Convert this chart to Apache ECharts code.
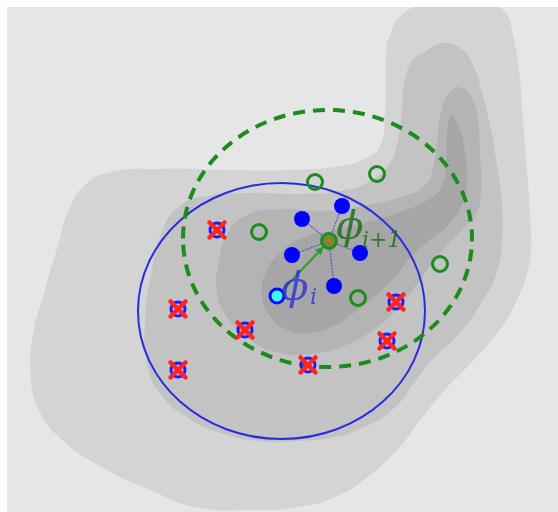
<!DOCTYPE html>
<html><head><meta charset="utf-8">
<script src="https://cdn.jsdelivr.net/npm/echarts@6/dist/echarts.min.js"></script>
<style>html,body{margin:0;padding:0;background:#fff}#c{width:558px;height:512px}</style>
</head><body><div id="c"></div>
<script>
// ---- data (diagram coordinates) ----
const contourL1 = [[386,60],[390,35],[405,12],[430,5],[490,5],[505,12],[513,35],[519,70],[523,120],[527,170],[530,215],[531,245],[528,270],[517,300],[498,332],[468,366],[443,392],[422,418],[397,450],[365,479],[335,497],[298,507],[250,510],[195,507],[150,490],[100,466],[60,438],[38,408],[31,378],[33,335],[45,290],[58,245],[68,212],[85,185],[112,172],[160,169],[230,170],[290,170],[340,166],[366,158],[380,146],[385,115]];
const contourL2 = [[428,50],[443,43],[460,48],[472,63],[482,92],[490,125],[497,165],[502,205],[502,240],[497,272],[480,305],[458,335],[432,360],[415,382],[392,410],[362,428],[335,437],[298,441],[258,441],[218,432],[185,416],[162,396],[148,368],[145,320],[152,270],[162,232],[177,208],[202,197],[250,193],[300,194],[345,190],[372,180],[390,163],[398,140],[402,110],[405,80],[413,60]];
const contourL3 = [[452,90],[462,88],[472,98],[478,120],[480,155],[481,190],[477,212],[464,228],[449,243],[434,261],[417,284],[399,307],[373,330],[341,347],[310,354],[280,353],[250,340],[228,318],[217,292],[219,262],[228,233],[245,216],[277,209],[327,211],[367,205],[400,197],[424,186],[433,168],[437,140],[442,108]];
const contourL4 = [[451,116],[459,128],[465,152],[467,178],[463,202],[451,222],[430,240],[412,256],[398,273],[375,296],[352,314],[332,327],[310,333],[288,330],[269,315],[262,294],[266,272],[280,253],[302,238],[335,230],[368,222],[400,212],[426,201],[441,188],[446,165],[447,135]];

const blueCircle = [281.5, 311, 143.5, 128];   // cx, cy, rx, ry
const greenCircle = [327.5, 238.5, 144.5, 128.5];

const rejectedPts = [[217,230],[178,309],[178,370],[245,330],[396,302],[387,341],[308,365]];
const proposalPts = [[315,182],[377,174],[259,232],[440,264],[358,298]];
const neighborPts = [[342,206],[302,219],[292,255],[360,253],[334,286]];
const phiI = [277,296];
const phiNext = [329,241];

const labelPos = [[295,290],[350,229]];
const labelMain = ['ϕ','ϕ'];
const labelSub = ['i','i+1'];

// ---- styles ----
const contourColors = ['#d4d4d4','#c3c3c3','#b4b4b4','#a6a6a6'];
const labelColors = ['rgba(45,45,215,0.78)','rgba(25,110,25,0.82)'];
const subOffset = [[15,8],[12,12]];
const contours = [contourL1, contourL2, contourL3, contourL4];

const chart = echarts.init(document.getElementById('c'), null, {renderer:'canvas'});

function ellipseSeries(ell, style, z){
  return {type:'custom', coordinateSystem:'cartesian2d', clip:true, silent:true, z:z,
    data:[ell],
    renderItem(params, api){
      const c = api.coord([api.value(0), api.value(1)]);
      const s = api.size([api.value(2), api.value(3)]);
      return {type:'ellipse', shape:{cx:c[0], cy:c[1], rx:Math.abs(s[0]), ry:Math.abs(s[1])}, style:style};
    }};
}

const option = {
  animation:false,
  backgroundColor:'#ffffff',
  grid:{left:7, top:7, right:0, bottom:0, show:true, backgroundColor:'#e6e6e6', borderWidth:0},
  xAxis:{type:'value', min:7, max:558, show:false},
  yAxis:{type:'value', min:7, max:512, inverse:true, show:false},
  series:[
    {type:'custom', coordinateSystem:'cartesian2d', clip:true, silent:true, z:1,
     data: contours.map((c,i)=>[300,300,i]),
     renderItem(params, api){
       const pts = contours[params.dataIndex].map(p=>api.coord(p));
       return {type:'polygon', shape:{points:pts, smooth:0.5}, style:{fill:contourColors[params.dataIndex]}};
     }},
    {type:'custom', coordinateSystem:'cartesian2d', clip:true, silent:true, z:2,
     data: neighborPts,
     renderItem(params, api){
       const a = api.coord(phiNext);
       const b = api.coord([api.value(0), api.value(1)]);
       return {type:'line', shape:{x1:a[0],y1:a[1],x2:b[0],y2:b[1]},
         style:{stroke:'rgba(55,55,215,0.75)', lineWidth:1.1, lineDash:[2,1]}};
     }},
    {type:'custom', coordinateSystem:'cartesian2d', clip:true, silent:true, z:3,
     data:[[phiI[0],phiI[1],phiNext[0],phiNext[1]]],
     renderItem(params, api){
       const a = api.coord([api.value(0), api.value(1)]);
       const b0 = api.coord([api.value(2), api.value(3)]);
       const dx = b0[0]-a[0], dy = b0[1]-a[1], L = Math.hypot(dx,dy);
       const ux = dx/L, uy = dy/L;
       const b = [b0[0]-ux*7, b0[1]-uy*7];
       const hl = 9, hw = 4;
       const base = [b[0]-ux*hl, b[1]-uy*hl];
       return {type:'group', children:[
         {type:'line', shape:{x1:a[0],y1:a[1],x2:base[0],y2:base[1]}, style:{stroke:'#2f9a2f', lineWidth:2}},
         {type:'polygon', shape:{points:[b,[base[0]-uy*hw, base[1]+ux*hw],[base[0]+uy*hw, base[1]-ux*hw]]}, style:{fill:'#2f9a2f'}}
       ]};
     }},
    ellipseSeries(blueCircle, {fill:'transparent', stroke:'#2a2ae0', lineWidth:2}, 4),
    ellipseSeries(greenCircle, {fill:'transparent', stroke:'#1c8c1c', lineWidth:4, lineDash:[12,8]}, 4),
    {type:'custom', coordinateSystem:'cartesian2d', clip:true, silent:true, z:5,
     data: rejectedPts,
     renderItem(params, api){
       const c = api.coord([api.value(0), api.value(1)]);
       const h = 7.5;
       return {type:'group', children:[
         {type:'circle', shape:{cx:c[0], cy:c[1], r:7}, style:{fill:'transparent', stroke:'#1c1cff', lineWidth:3}},
         {type:'line', shape:{x1:c[0]-h,y1:c[1]-h,x2:c[0]+h,y2:c[1]+h}, style:{stroke:'#ff2424', lineWidth:4.5, lineCap:'round'}},
         {type:'line', shape:{x1:c[0]-h,y1:c[1]+h,x2:c[0]+h,y2:c[1]-h}, style:{stroke:'#ff2424', lineWidth:4.5, lineCap:'round'}}
       ]};
     }},
    {type:'custom', coordinateSystem:'cartesian2d', clip:true, silent:true, z:5,
     data: proposalPts,
     renderItem(params, api){
       const c = api.coord([api.value(0), api.value(1)]);
       return {type:'circle', shape:{cx:c[0], cy:c[1], r:7.5}, style:{fill:'transparent', stroke:'#1c8c1c', lineWidth:3}};
     }},
    {type:'custom', coordinateSystem:'cartesian2d', clip:true, silent:true, z:5,
     data: neighborPts,
     renderItem(params, api){
       const c = api.coord([api.value(0), api.value(1)]);
       return {type:'circle', shape:{cx:c[0], cy:c[1], r:8}, style:{fill:'#0000ff'}};
     }},
    {type:'custom', coordinateSystem:'cartesian2d', clip:true, silent:true, z:6,
     data:[phiI],
     renderItem(params, api){
       const c = api.coord([api.value(0), api.value(1)]);
       return {type:'circle', shape:{cx:c[0], cy:c[1], r:7}, style:{fill:'#3ff8f8', stroke:'#0a0aff', lineWidth:3}};
     }},
    {type:'custom', coordinateSystem:'cartesian2d', clip:true, silent:true, z:6,
     data:[phiNext],
     renderItem(params, api){
       const c = api.coord([api.value(0), api.value(1)]);
       return {type:'group', children:[
         {type:'circle', shape:{cx:c[0], cy:c[1], r:7.5}, style:{fill:'#6f8f2a', stroke:'#238a23', lineWidth:3}},
         {type:'circle', shape:{cx:c[0], cy:c[1], r:2}, style:{fill:'#c86a3a'}}
       ]};
     }},
    {type:'custom', coordinateSystem:'cartesian2d', clip:false, silent:true, z:7,
     data: labelPos,
     renderItem(params, api){
       const i = params.dataIndex;
       const c = api.coord([api.value(0), api.value(1)]);
       return {type:'group', children:[
         {type:'text', x:c[0], y:c[1], style:{text:labelMain[i], fill:labelColors[i], font:'italic 40px "DejaVu Serif"', align:'center', verticalAlign:'middle'}},
         {type:'text', x:c[0]+subOffset[i][0], y:c[1]+subOffset[i][1], style:{text:labelSub[i], fill:labelColors[i], font:'italic 22px "DejaVu Serif"', align:'left', verticalAlign:'middle'}}
       ]};
     }}
  ]
};
chart.setOption(option);
</script></body></html>
